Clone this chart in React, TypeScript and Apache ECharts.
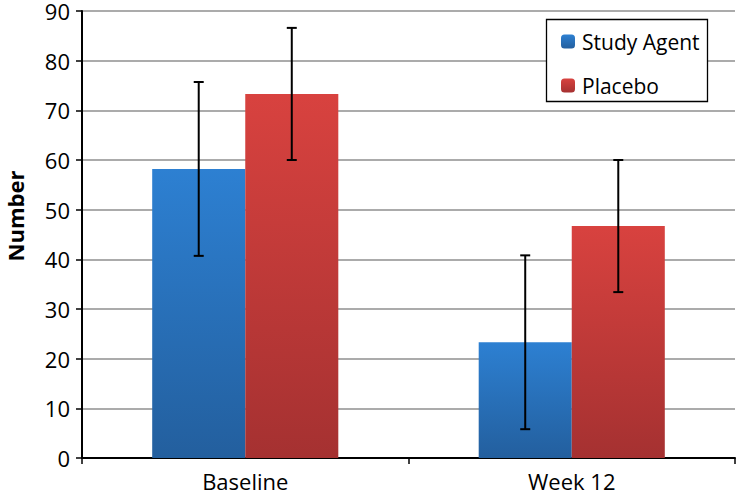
import React, { useEffect, useRef } from "react";
import * as echarts from "echarts";

const categories = ["Baseline", "Week 12"];
const studyAgent = [58.2, 23.3];
const studyAgentErr = [17.5, 17.5];
const placebo = [73.3, 46.7];
const placeboErr = [13.3, 13.3];
const yTicks = { min: 0, max: 90, interval: 10 };

const FONT = "'Open Sans', 'Liberation Sans', sans-serif";
const CAT_GAP = 0.43;

const blueGrad = new echarts.graphic.LinearGradient(0, 0, 0, 1, [
  { offset: 0, color: "#2d80d2" },
  { offset: 1, color: "#235f9e" },
]);
const redGrad = new echarts.graphic.LinearGradient(0, 0, 0, 1, [
  { offset: 0, color: "#d8423f" },
  { offset: 1, color: "#a53131" },
]);

function errorSeries(name: string, values: number[], errs: number[], side: number) {
  return {
    type: "custom",
    name: name + " error",
    z: 10,
    silent: true,
    data: values.map((v, i) => [i, v - errs[i], v + errs[i]]),
    renderItem: (params: any, api: any) => {
      const idx = api.value(0);
      const lo = api.coord([idx, api.value(1)]);
      const hi = api.coord([idx, api.value(2)]);
      const band = api.size([1, 0])[0];
      const bw = (band * (1 - CAT_GAP)) / 2;
      const x = lo[0] + (side * bw) / 2;
      const half = 5;
      const style = { stroke: "#000", lineWidth: 2 };
      return {
        type: "group",
        children: [
          { type: "line", shape: { x1: x, y1: lo[1], x2: x, y2: hi[1] }, style },
          { type: "line", shape: { x1: x - half, y1: lo[1], x2: x + half, y2: lo[1] }, style },
          { type: "line", shape: { x1: x - half, y1: hi[1], x2: x + half, y2: hi[1] }, style },
        ],
      };
    },
  };
}

export default function App() {
  const ref = useRef<HTMLDivElement>(null);
  useEffect(() => {
    if (!ref.current) return;
    const chart = echarts.init(ref.current, null, { renderer: "svg" });
    chart.setOption({
      animation: false,
      backgroundColor: "#fff",
      textStyle: { fontFamily: FONT },
      grid: { left: 82, right: 2, top: 11, bottom: 37, containLabel: false },
      legend: {
        show: true,
        orient: "vertical",
        left: 561,
        top: 31,
        z: 10,
        itemWidth: 14,
        itemHeight: 14,
        itemGap: 23,
        padding: 0,
        data: ["Study Agent", "Placebo"],
        textStyle: { fontFamily: FONT, fontSize: 21, color: "#000", lineHeight: 20, padding: [0, 0, 0, 2] },
      },
      graphic: [
        {
          type: "rect",
          z: 5,
          shape: { x: 546.5, y: 19.5, width: 161, height: 82 },
          style: { fill: "#fff", stroke: "#000", lineWidth: 1.3 },
        },
        {
          type: "text",
          z: 5,
          x: 15,
          y: 216,
          rotation: Math.PI / 2,
          style: {
            text: "Number",
            fontFamily: FONT,
            fontSize: 22,
            lineHeight: 22,
            fontWeight: "bold",
            fill: "#000",
            align: "center",
            verticalAlign: "middle",
          },
        },
      ],
      xAxis: {
        type: "category",
        data: categories,
        boundaryGap: true,
        axisLine: { lineStyle: { color: "#000", width: 2 } },
        axisTick: { show: true, length: 6, lineStyle: { color: "#000", width: 1.5 } },
        axisLabel: { fontFamily: FONT, fontSize: 22, color: "#000", margin: 14, lineHeight: 18 },
        splitLine: { show: false },
      },
      yAxis: {
        type: "value",
        min: yTicks.min,
        max: yTicks.max,
        interval: yTicks.interval,
        axisLine: { show: true, lineStyle: { color: "#000", width: 2 } },
        axisTick: { show: true, length: 6, lineStyle: { color: "#000", width: 1.5 } },
        axisLabel: { fontFamily: FONT, fontSize: 22, color: "#000", margin: 12, lineHeight: 14 },
        splitLine: { show: true, lineStyle: { color: "#8f8f8f", width: 1.6 } },
      },
      series: [
        {
          type: "bar",
          name: "Study Agent",
          data: studyAgent,
          barGap: "0%",
          barCategoryGap: CAT_GAP * 100 + "%",
          itemStyle: { color: blueGrad },
        },
        {
          type: "bar",
          name: "Placebo",
          data: placebo,
          barGap: "0%",
          barCategoryGap: CAT_GAP * 100 + "%",
          itemStyle: { color: redGrad },
        },
        errorSeries("Study Agent", studyAgent, studyAgentErr, -1),
        errorSeries("Placebo", placebo, placeboErr, 1),
      ],
    });
    return () => chart.dispose();
  }, []);
  return (
    <div
      ref={ref}
      style={{ position: "fixed", left: 0, top: 0, width: 737, height: 495 }}
    />
  );
}
